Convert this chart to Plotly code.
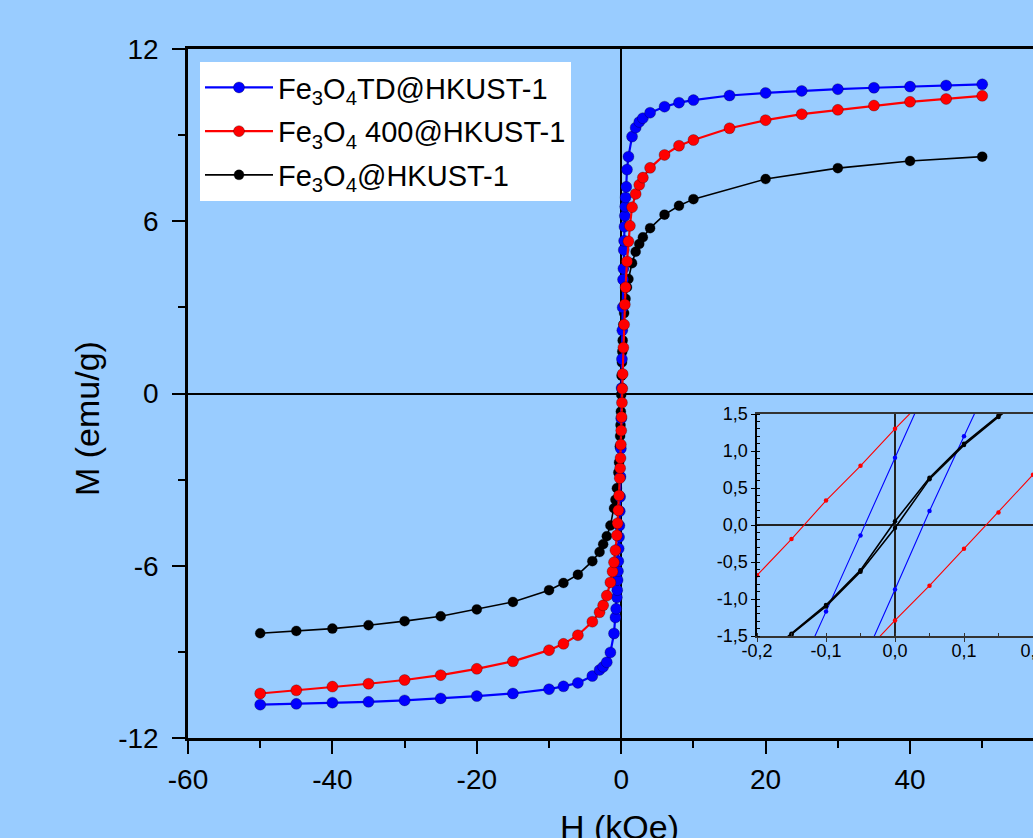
import plotly.graph_objects as go

# ---------------- data (main loops, H in kOe, M in emu/g) ----------------
H_td = [-50, -45, -40, -35, -30, -25, -20, -15, -10,
        -8, -6, -4, -3, -2.5, -2, -1.5, -1,
        -0.8, -0.7, -0.6, -0.55, -0.5, -0.45, -0.4, -0.35, -0.3, -0.25, -0.2, -0.15, -0.1, -0.05,
        0,
        0.05, 0.1, 0.15, 0.2, 0.25, 0.3, 0.35, 0.4, 0.45, 0.5, 0.55, 0.6, 0.7, 0.8,
        1, 1.5, 2, 2.5, 3, 4, 6, 8, 10,
        15, 20, 25, 30, 35, 40, 45, 50]
M_td = [-10.84, -10.81, -10.77, -10.74, -10.69, -10.62, -10.54, -10.45, -10.30,
        -10.20, -10.08, -9.84, -9.63, -9.52, -9.36, -9.02, -8.36,
        -7.8, -7.5, -7.1, -6.85, -6.5, -6.19, -5.84, -5.4, -5.0, -4.6, -4.1, -3.6, -2.9, -1.92,
        -0.87,
        0.19, 1.20, 2.2, 3.0, 3.97, 4.35, 5.0, 5.32, 5.81, 6.19, 6.51, 6.83, 7.2, 7.8,
        8.25, 8.95, 9.26, 9.46, 9.59, 9.78, 9.99, 10.13, 10.22,
        10.38, 10.47, 10.54, 10.60, 10.65, 10.69, 10.73, 10.77]

H_400 = [-50, -45, -40, -35, -30, -25, -20, -15, -10,
         -8, -6, -4, -3, -2.5, -2, -1.5,
         -1.2, -1, -0.8, -0.6, -0.5, -0.4, -0.3, -0.2, -0.15, -0.1, -0.05,
         0,
         0.05, 0.1, 0.15, 0.2, 0.3, 0.4, 0.5, 0.6, 0.8, 1, 1.2,
         1.5, 2, 2.5, 3, 4, 6, 8, 10,
         15, 20, 25, 30, 35, 40, 45, 50]
M_400 = [-10.45, -10.34, -10.21, -10.11, -9.98, -9.81, -9.59, -9.33, -8.94,
         -8.72, -8.42, -7.95, -7.62, -7.38, -7.04, -6.58,
         -6.2, -5.88, -5.46, -4.94, -4.52, -4.07, -3.55, -2.95, -2.6, -2.25, -1.78,
         -1.29,
         -0.82, -0.32, 0.17, 0.68, 1.6, 2.4, 3.1, 3.7, 4.6, 5.3, 5.84,
         6.49, 6.95, 7.27, 7.52, 7.86, 8.31, 8.63, 8.83,
         9.24, 9.52, 9.73, 9.88, 10.03, 10.16, 10.26, 10.37]

H_bare = [-50, -45, -40, -35, -30, -25, -20, -15, -10,
          -8, -6, -4, -3, -2.5, -2, -1.5, -1,
          -0.8, -0.6, -0.4, -0.3, -0.2, -0.15, -0.1, -0.05,
          0,
          0.05, 0.1, 0.15, 0.2, 0.3, 0.4, 0.6, 0.8,
          1, 1.5, 2, 2.5, 3, 4, 6, 8, 10,
          20, 30, 40, 50]
M_bare = [-8.35, -8.27, -8.19, -8.07, -7.93, -7.76, -7.52, -7.26, -6.85,
          -6.6, -6.31, -5.84, -5.52, -5.25, -4.97, -4.6, -4.0,
          -3.7, -3.3, -2.75, -2.4, -1.85, -1.48, -1.10, -0.63,
          -0.04,
          0.62, 1.08, 1.46, 1.85, 2.4, 2.8, 3.3, 3.7,
          3.99, 4.54, 4.94, 5.21, 5.44, 5.76, 6.23, 6.54, 6.77,
          7.47, 7.85, 8.10, 8.25]

# ---------------- inset data (low-field detail) ----------------
H_in = [-0.2, -0.15, -0.1, -0.05, 0, 0.05, 0.1, 0.15, 0.2]
M_td_down = [-3.1, -2.2, -1.17, -0.14, 0.91, 1.95, 2.9, 3.6, 4.1]
M_td_up = [-4.1, -3.6, -2.9, -1.92, -0.87, 0.19, 1.20, 2.2, 3.0]
M_400_down = [-0.68, -0.19, 0.33, 0.80, 1.30, 1.78, 2.25, 2.6, 2.95]
M_400_up = [-2.95, -2.6, -2.25, -1.78, -1.29, -0.82, -0.32, 0.17, 0.68]
M_bare_down = [-1.85, -1.47, -1.08, -0.61, 0.05, 0.64, 1.10, 1.48, 1.85]
M_bare_up = [-1.85, -1.48, -1.10, -0.63, -0.04, 0.62, 1.08, 1.46, 1.85]

names = ["Fe<sub>3</sub>O<sub>4</sub>TD@HKUST-1",
         "Fe<sub>3</sub>O<sub>4</sub> 400@HKUST-1",
         "Fe<sub>3</sub>O<sub>4</sub>@HKUST-1"]
colors = ["#0000FF", "#FF0000", "#000000"]

x_tickvals = [-60, -40, -20, 0, 20, 40]
x_ticktext = ["-60", "-40", "-20", "0", "20", "40"]
y_tickvals = [-12, -6, 0, 6, 12]
y_ticktext = ["-12", "-6", "0", "6", "12"]
in_x_tickvals = [-0.2, -0.1, 0.0, 0.1, 0.2]
in_x_ticktext = ["-0,2", "-0,1", "0,0", "0,1", "0,2"]
in_y_tickvals = [-1.5, -1.0, -0.5, 0.0, 0.5, 1.0, 1.5]
in_y_ticktext = ["-1,5", "-1,0", "-0,5", "0,0", "0,5", "1,0", "1,5"]

BG = "#99CCFF"
FONT = "Liberation Sans, Arial, sans-serif"

fig = go.Figure()

main_sets = [(H_bare, M_bare, 2, 1.6, 10), (H_td, M_td, 0, 2.2, 11), (H_400, M_400, 1, 2.2, 11)]
for H, M, idx, lw, ms in main_sets:
    assert len(H) == len(M)
    fig.add_trace(go.Scatter(
        x=H, y=M, mode="lines+markers", name=names[idx], legendrank=idx + 1,
        legendgroup="g%d" % idx,
        line=dict(color=colors[idx], width=lw),
        marker=dict(color=colors[idx], size=ms, symbol="circle",
                    line=dict(width=0.8, color="rgba(0,0,0,0.35)")),
        xaxis="x", yaxis="y",
    ))

inset_sets = [(M_400_down, 1, 1.1), (M_400_up, 1, 1.1),
              (M_td_down, 0, 1.1), (M_td_up, 0, 1.1),
              (M_bare_down, 2, 1.6), (M_bare_up, 2, 1.6)]
for M, idx, lw in inset_sets:
    fig.add_trace(go.Scatter(
        x=H_in, y=M, mode="lines+markers", showlegend=False,
        line=dict(color=colors[idx], width=lw),
        marker=dict(color=colors[idx], size=4.5, symbol="circle"),
        xaxis="x2", yaxis="y2",
    ))

axis_common = dict(showgrid=False, color="black", linecolor="black", automargin=False,
                   tickcolor="black", tickfont=dict(family=FONT, size=28, color="black"))

fig.update_layout(
    width=1033, height=838,
    paper_bgcolor=BG, plot_bgcolor=BG,
    margin=dict(l=188, r=0, t=49, b=100, autoexpand=False),
    font=dict(family=FONT, color="black"),
    showlegend=True,
    legend=dict(x=0.0142, y=0.981, xanchor="left", yanchor="top",
                bgcolor="white", borderwidth=0,
                font=dict(family=FONT, size=29, color="black"),
                itemwidth=68, tracegroupgap=3),
    xaxis=dict(domain=[0, 1], range=[-60, 57.03], tickmode="array",
               tickvals=x_tickvals, ticktext=x_ticktext,
               showline=True, linewidth=2.5, mirror=True,
               ticks="outside", ticklen=13, tickwidth=2, ticklabelstandoff=2,
               minor=dict(tickvals=[-50, -30, -10, 10, 30, 50], ticks="outside",
                          ticklen=7, tickwidth=2, tickcolor="black"),
               zeroline=True, zerolinecolor="black", zerolinewidth=2,
               **axis_common),
    yaxis=dict(domain=[0, 1], range=[-12, 12], tickmode="array",
               tickvals=y_tickvals, ticktext=y_ticktext,
               showline=True, linewidth=2.5, mirror=False,
               ticks="outside", ticklen=13, tickwidth=2, ticklabelstandoff=8,
               minor=dict(tickvals=[-9, -3, 3, 9], ticks="outside",
                          ticklen=7, tickwidth=2, tickcolor="black"),
               zeroline=True, zerolinecolor="black", zerolinewidth=2,
               **axis_common),
    xaxis2=dict(domain=[0.6734, 1.0], range=[-0.2, 0.2], anchor="y2", automargin=False,
                tickmode="array", tickvals=in_x_tickvals, ticktext=in_x_ticktext,
                showline=True, linewidth=1.8, linecolor="#333333", mirror=True,
                ticks="outside", ticklen=4, tickwidth=1.2, tickcolor="#333333",
                ticklabelstandoff=-7, ticklabeloverflow="allow",
                minor=dict(dtick=0.05, ticks="inside", ticklen=3, tickwidth=1, tickcolor="#333333"),
                zeroline=True, zerolinecolor="#222222", zerolinewidth=1.5,
                showgrid=False, tickfont=dict(family=FONT, size=18, color="black")),
    yaxis2=dict(domain=[0.148, 0.4702], range=[-1.5, 1.5], anchor="x2", automargin=False,
                tickmode="array", tickvals=in_y_tickvals, ticktext=in_y_ticktext,
                showline=True, linewidth=1.5, linecolor="black", mirror=False,
                ticks="outside", ticklen=4, tickwidth=1.2, tickcolor="black",
                minor=dict(dtick=0.1, ticks="inside", ticklen=3, tickwidth=1, tickcolor="black"),
                zeroline=True, zerolinecolor="#222222", zerolinewidth=1.5,
                showgrid=False, tickfont=dict(family=FONT, size=18, color="black")),
    annotations=[
        dict(text="M (emu/g)", textangle=-90, xref="paper", yref="paper",
             x=-0.1195, y=0.463, xanchor="center", yanchor="middle", showarrow=False,
             font=dict(family=FONT, size=34, color="black")),
        dict(text="H (kOe)", xref="paper", yref="paper",
             x=0.511, y=-0.129, xanchor="center", yanchor="middle", showarrow=False,
             font=dict(family=FONT, size=34, color="black")),
    ],
)

fig.write_html("out.html",
               config={"displayModeBar": False},
               post_script="document.body.style.margin='0';"
                           "document.body.style.background='" + BG + "';"
                           "document.documentElement.style.overflow='hidden';")
